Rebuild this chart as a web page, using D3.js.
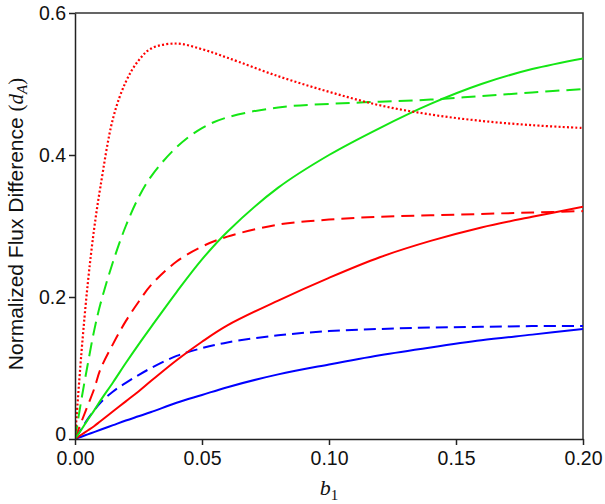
<!DOCTYPE html>
<html>
<head>
<meta charset="utf-8">
<script src="https://cdn.jsdelivr.net/npm/d3@7"></script>
<style>
  body { margin: 0; background: #fff; }
  svg text { font-family: Arial, "Liberation Sans", sans-serif; }
</style>
</head>
<body>
<div id="chart"></div>
<script>
// b1 values shared by every curve
var b1 = [0, 0.0025, 0.005, 0.0075, 0.01, 0.015, 0.02, 0.025, 0.03, 0.04, 0.05,
          0.06, 0.08, 0.10, 0.12, 0.14, 0.16, 0.18, 0.20];

// curves
var redDotted   = [0, 0.12, 0.218, 0.295, 0.355, 0.452, 0.503, 0.533, 0.55, 0.557, 0.549,
                   0.537, 0.511, 0.489, 0.47, 0.457, 0.448, 0.442, 0.438];
var greenDashed = [0, 0.055, 0.105, 0.152, 0.19, 0.25, 0.30, 0.34, 0.37, 0.411, 0.438,
                   0.453, 0.467, 0.472, 0.475, 0.478, 0.483, 0.488, 0.493];
var greenSolid  = [0, 0.013, 0.027, 0.04, 0.054, 0.08, 0.107, 0.133, 0.158, 0.207, 0.253,
                   0.292, 0.354, 0.40, 0.438, 0.472, 0.50, 0.521, 0.536];
var redDashed   = [0, 0.024, 0.047, 0.07, 0.098, 0.134, 0.166, 0.193, 0.217, 0.25, 0.271,
                   0.285, 0.302, 0.309, 0.313, 0.315, 0.317, 0.319, 0.321];
var redSolid    = [0, 0.006, 0.012, 0.018, 0.025, 0.039, 0.053, 0.067, 0.082, 0.111, 0.137,
                   0.16, 0.195, 0.227, 0.256, 0.279, 0.298, 0.313, 0.327];
var blueDashed  = [0, 0.014, 0.028, 0.04, 0.051, 0.067, 0.079, 0.09, 0.10, 0.117, 0.128,
                   0.136, 0.146, 0.152, 0.155, 0.157, 0.158, 0.159, 0.159];
var blueSolid   = [0, 0.0032, 0.0065, 0.0097, 0.013, 0.0195, 0.026, 0.032, 0.038, 0.051, 0.062,
                   0.073, 0.091, 0.105, 0.118, 0.129, 0.139, 0.147, 0.155];

var xTicks = [0, 0.05, 0.10, 0.15, 0.20];
var yTicks = [0, 0.2, 0.4, 0.6];

var series = [
    {name: "blueSolid",   values: blueSolid,   color: "#0000ff", dash: null},
    {name: "blueDashed",  values: blueDashed,  color: "#0000ff", dash: "12,6"},
    {name: "redSolid",    values: redSolid,    color: "#ff0000", dash: null},
    {name: "redDashed",   values: redDashed,   color: "#ff0000", dash: "13,7"},
    {name: "greenSolid",  values: greenSolid,  color: "#14e614", dash: null},
    {name: "greenDashed", values: greenDashed, color: "#14e614", dash: "14,7"},
    {name: "redDotted",   values: redDotted,   color: "#ff0000", dash: "2,2.2"}
];

// set the dimensions and margins of the graph
var margin = {top: 13, right: 22, bottom: 65, left: 75},
    width = 605 - margin.left - margin.right,
    height = 504 - margin.top - margin.bottom;

var scalex = d3.scaleLinear().domain([0, 0.2]).range([0, width]);
var scaley = d3.scaleLinear().domain([0, 0.6]).range([height, 0]);

var svg = d3.select("#chart").append("svg")
    .attr("width", 605)
    .attr("height", 504)
    .append("g")
    .attr("transform", "translate(" + margin.left + "," + margin.top + ")");

svg.append("clipPath").attr("id", "clip")
    .append("rect").attr("x", 0).attr("y", -2).attr("width", width).attr("height", height + 2);

// frame (top and right)
svg.append("path")
    .attr("d", "M0,0H" + width + "V" + height)
    .attr("fill", "none").attr("stroke", "#333").attr("stroke-width", 1.5);

var valueline = d3.line()
    .x(function (d) { return scalex(d.x); })
    .y(function (d) { return scaley(d.y); })
    .curve(d3.curveCatmullRom.alpha(0.5));

var lines = svg.append("g").attr("clip-path", "url(#clip)");
series.forEach(function (s) {
    var pts = b1.map(function (x, i) { return {x: x, y: s.values[i]}; });
    lines.append("path")
        .datum(pts)
        .attr("d", valueline)
        .attr("fill", "none")
        .attr("stroke", s.color)
        .attr("stroke-width", s.name === "redDotted" ? 2.2 : 2)
        .attr("stroke-dasharray", s.dash);
});

// add the X Axis
var gx = svg.append("g")
    .attr("transform", "translate(0," + height + ")")
    .call(d3.axisBottom(scalex)
        .tickValues(xTicks)
        .tickSize(6)
        .tickSizeOuter(0)
        .tickFormat(d3.format(".2f")));

// add the Y Axis
var gy = svg.append("g")
    .call(d3.axisLeft(scaley)
        .tickValues(yTicks)
        .tickSize(6)
        .tickSizeOuter(0)
        .tickFormat(function (d) { return d === 0 ? "0" : d3.format(".1f")(d); }));

[gx, gy].forEach(function (g) {
    g.select(".domain").attr("stroke", "#222").attr("stroke-width", 1.5);
    g.selectAll(".tick line").attr("stroke", "#222").attr("stroke-width", 1.5);
    g.selectAll(".tick text").attr("fill", "#111")
        .style("font-size", "19.5px").style("font-family", "Arial, 'Liberation Sans', sans-serif");
});
gx.selectAll(".tick text").attr("y", 12);
gy.selectAll(".tick text").attr("x", -9).attr("dy", "0.35em");
// the "0" of the y axis sits just above the "0.00" of the x axis
gy.selectAll(".tick text").filter(function (d) { return d === 0; }).attr("dy", "0.1em");

// axis titles
var xl = svg.append("text")
    .attr("x", width / 2)
    .attr("y", height + 56)
    .attr("text-anchor", "middle")
    .style("font-family", "'Liberation Serif', 'DejaVu Serif', serif")
    .style("font-size", "22px")
    .attr("fill", "#111");
xl.append("tspan").style("font-style", "italic").text("b");
xl.append("tspan").attr("dy", 5).style("font-size", "15px").text("1");

var yl = svg.append("text")
    .attr("transform", "translate(" + (-52) + "," + (height / 2 - 2) + ") rotate(-90)")
    .attr("text-anchor", "middle")
    .style("font-size", "21px")
    .attr("fill", "#111");
yl.append("tspan").text("Normalized Flux Difference ");
yl.append("tspan").style("font-family", "'Liberation Serif', serif").text("(");
yl.append("tspan").style("font-family", "'Liberation Serif', serif")
    .style("font-style", "italic").text("d");
yl.append("tspan").style("font-family", "'Liberation Serif', serif")
    .style("font-style", "italic").style("font-size", "15px").attr("dy", 4).text("A");
yl.append("tspan").style("font-family", "'Liberation Serif', serif").attr("dy", -4).text(")");
</script>
</body>
</html>
